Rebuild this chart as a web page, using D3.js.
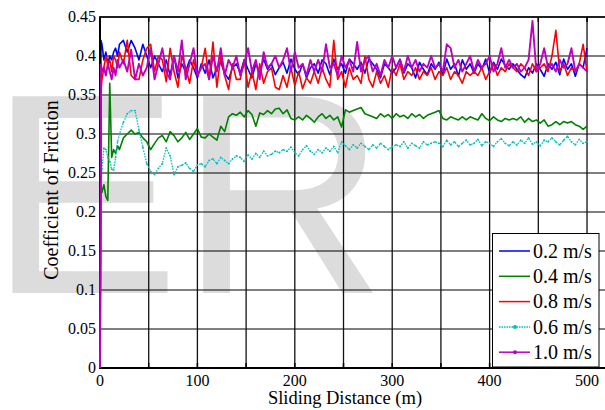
<!DOCTYPE html>
<html>
<head>
<meta charset="utf-8">
<script src="https://cdn.jsdelivr.net/npm/d3@7"></script>
<style>
    body { margin: 0; background: #fff; }
    svg text { font-family: "Liberation Serif", "Times New Roman", serif; fill: #000; }
</style>
</head>
<body>
<svg id="chart" width="605" height="410"></svg>
<script>

// sliding distance (m) where each reading was taken
const dist = [0, 1, 2, 4, 6, 8, 10, 12, 14, 16, 18, 20].concat(d3.range(24, 501, 4))

const speeds = ['0.2 m/s', '0.4 m/s', '0.8 m/s', '0.6 m/s', '1.0 m/s']

const cof02 = [0, 0.42, 0.415, 0.395, 0.405, 0.39, 0.40, 0.395, 0.405, 0.41, 0.40, 0.415,
    0.42, 0.405, 0.42, 0.41, 0.395, 0.415, 0.40, 0.385, 0.40, 0.39,
    0.38, 0.395, 0.375, 0.40, 0.372, 0.39, 0.38, 0.395, 0.385, 0.372,
    0.39, 0.378, 0.395, 0.372, 0.385, 0.392, 0.378, 0.37, 0.385, 0.39,
    0.378, 0.395, 0.383, 0.372, 0.39, 0.378, 0.396, 0.383, 0.39, 0.376,
    0.385, 0.392, 0.378, 0.396, 0.383, 0.376, 0.39, 0.372, 0.385, 0.39,
    0.378, 0.395, 0.39, 0.376, 0.396, 0.383, 0.39, 0.378, 0.396, 0.39,
    0.383, 0.392, 0.378, 0.396, 0.39, 0.383, 0.372, 0.39, 0.385, 0.378,
    0.385, 0.396, 0.378, 0.39, 0.385, 0.372, 0.392, 0.383, 0.376, 0.39,
    0.383, 0.392, 0.376, 0.396, 0.383, 0.39, 0.374, 0.395, 0.383, 0.39,
    0.378, 0.39, 0.383, 0.396, 0.378, 0.392, 0.383, 0.396, 0.388, 0.383,
    0.39, 0.383, 0.376, 0.372, 0.385, 0.378, 0.39, 0.383, 0.374, 0.39,
    0.383, 0.392, 0.376, 0.396, 0.383, 0.39, 0.374, 0.39, 0.385, 0.41]

const cof04 = [0, 0.235, 0.225, 0.235, 0.22, 0.215, 0.365, 0.27, 0.28, 0.275, 0.285, 0.28,
    0.295, 0.30, 0.305, 0.30, 0.302, 0.295, 0.29, 0.28, 0.288, 0.295,
    0.298, 0.29, 0.303, 0.298, 0.29, 0.295, 0.302, 0.293, 0.30, 0.307,
    0.296, 0.295, 0.30, 0.296, 0.292, 0.31, 0.303, 0.322, 0.326, 0.324,
    0.328, 0.322, 0.33, 0.325, 0.31, 0.327, 0.325, 0.33, 0.326, 0.332,
    0.333, 0.326, 0.331, 0.32, 0.318, 0.322, 0.318, 0.324, 0.32, 0.315,
    0.322, 0.326, 0.32, 0.324, 0.318, 0.322, 0.309, 0.331, 0.328, 0.33,
    0.332, 0.334, 0.326, 0.324, 0.322, 0.32, 0.326, 0.322, 0.325, 0.32,
    0.326, 0.322, 0.324, 0.32, 0.326, 0.322, 0.325, 0.32, 0.324, 0.326,
    0.328, 0.33, 0.32, 0.318, 0.322, 0.32, 0.318, 0.322, 0.318, 0.322,
    0.32, 0.318, 0.326, 0.32, 0.317, 0.322, 0.318, 0.316, 0.32, 0.318,
    0.32, 0.318, 0.322, 0.315, 0.32, 0.316, 0.318, 0.314, 0.318, 0.31,
    0.312, 0.316, 0.312, 0.316, 0.314, 0.316, 0.312, 0.31, 0.306, 0.31]

const cof08 = [0, 0.355, 0.37, 0.385, 0.40, 0.39, 0.395, 0.38, 0.40, 0.395, 0.385, 0.405,
    0.39, 0.42, 0.375, 0.37, 0.37, 0.395, 0.41, 0.415, 0.38, 0.40,
    0.395, 0.367, 0.41, 0.38, 0.36, 0.40, 0.385, 0.365, 0.395, 0.375,
    0.385, 0.41, 0.37, 0.418, 0.36, 0.40, 0.375, 0.357, 0.39, 0.37,
    0.37, 0.395, 0.36, 0.38, 0.357, 0.39, 0.365, 0.38, 0.385, 0.36,
    0.357, 0.375, 0.36, 0.385, 0.362, 0.38, 0.358, 0.372, 0.365, 0.38,
    0.365, 0.385, 0.37, 0.36, 0.42, 0.37, 0.38, 0.36, 0.385, 0.37,
    0.375, 0.365, 0.40, 0.37, 0.36, 0.38, 0.365, 0.375, 0.36, 0.385,
    0.375, 0.39, 0.37, 0.38, 0.375, 0.385, 0.37, 0.38, 0.375, 0.385,
    0.37, 0.38, 0.375, 0.385, 0.37, 0.38, 0.375, 0.365, 0.38, 0.375,
    0.38, 0.375, 0.385, 0.37, 0.38, 0.39, 0.375, 0.385, 0.38, 0.39,
    0.385, 0.38, 0.39, 0.385, 0.375, 0.39, 0.38, 0.385, 0.39, 0.38,
    0.40, 0.433, 0.38, 0.39, 0.375, 0.385, 0.38, 0.39, 0.415, 0.38]

const cof06 = [0, 0.23, 0.255, 0.282, 0.28, 0.27, 0.265, 0.255, 0.254, 0.27, 0.29, 0.30,
    0.315, 0.326, 0.33, 0.33, 0.305, 0.283, 0.262, 0.252, 0.248, 0.256,
    0.262, 0.282, 0.272, 0.248, 0.258, 0.26, 0.263, 0.256, 0.252, 0.26,
    0.262, 0.258, 0.266, 0.268, 0.262, 0.27, 0.266, 0.262, 0.268, 0.272,
    0.27, 0.265, 0.273, 0.268, 0.275, 0.27, 0.278, 0.272, 0.274, 0.278,
    0.276, 0.28, 0.278, 0.283, 0.276, 0.272, 0.28, 0.285, 0.278, 0.274,
    0.28, 0.276, 0.282, 0.278, 0.284, 0.276, 0.29, 0.285, 0.28, 0.286,
    0.282, 0.288, 0.284, 0.28, 0.286, 0.282, 0.288, 0.284, 0.28, 0.284,
    0.286, 0.284, 0.29, 0.282, 0.288, 0.285, 0.282, 0.29, 0.286, 0.288,
    0.29, 0.288, 0.284, 0.292, 0.286, 0.29, 0.284, 0.288, 0.292, 0.286,
    0.288, 0.293, 0.285, 0.29, 0.288, 0.284, 0.29, 0.294, 0.288, 0.285,
    0.29, 0.286, 0.292, 0.288, 0.295, 0.287, 0.29, 0.285, 0.292, 0.29,
    0.295, 0.29, 0.286, 0.292, 0.297, 0.29, 0.286, 0.293, 0.288, 0.29]

const cof10 = [0, 0.39, 0.38, 0.385, 0.375, 0.39, 0.38, 0.37, 0.385, 0.375, 0.395, 0.385,
    0.395, 0.38, 0.408, 0.37, 0.39, 0.375, 0.385, 0.41, 0.37, 0.39,
    0.41, 0.38, 0.37, 0.40, 0.38, 0.42, 0.37, 0.39, 0.41, 0.375,
    0.385, 0.39, 0.37, 0.40, 0.38, 0.41, 0.375, 0.395, 0.385, 0.40,
    0.375, 0.39, 0.41, 0.38, 0.395, 0.37, 0.405, 0.385, 0.39, 0.40,
    0.385, 0.395, 0.41, 0.38, 0.405, 0.385, 0.39, 0.375, 0.395, 0.38,
    0.395, 0.38, 0.415, 0.385, 0.39, 0.375, 0.40, 0.385, 0.395, 0.38,
    0.418, 0.38, 0.395, 0.40, 0.38, 0.39, 0.375, 0.395, 0.385, 0.40,
    0.385, 0.395, 0.38, 0.40, 0.385, 0.395, 0.38, 0.39, 0.385, 0.40,
    0.385, 0.39, 0.38, 0.415, 0.41, 0.385, 0.395, 0.38, 0.39, 0.40,
    0.38, 0.395, 0.385, 0.39, 0.40, 0.38, 0.39, 0.41, 0.385, 0.395,
    0.385, 0.39, 0.38, 0.385, 0.395, 0.445, 0.38, 0.39, 0.41, 0.385,
    0.39, 0.38, 0.395, 0.385, 0.39, 0.41, 0.38, 0.39, 0.385, 0.38]

const yTicks = [0, 0.05, 0.1, 0.15, 0.2, 0.25, 0.3, 0.35, 0.4, 0.45]
const xGrid = [0, 50, 100, 150, 200, 250, 300, 350, 400, 450, 500]
const xLabels = [0, 100, 200, 300, 400, 500]

const series = [
    { name: speeds[0], values: cof02, color: '#0000ff', width: 1.6 },
    { name: speeds[1], values: cof04, color: '#008000', width: 1.6 },
    { name: speeds[2], values: cof08, color: '#ff0000', width: 1.6 },
    { name: speeds[3], values: cof06, color: '#00bfbf', width: 1.3, dash: '1.6,1.2', marker: true },
    { name: speeds[4], values: cof10, color: '#bf00bf', width: 1.9, marker: true }
]

const svg = d3.select('#chart')

const x = d3.scaleLinear().domain([0, 520]).range([100, 606.5])
const y = d3.scaleLinear().domain([0, 0.45]).range([368, 17])

// watermark sits under the grid
svg.append('text')
    .attr('x', -11)
    .attr('y', 293)
    .style('font-family', '"Liberation Sans", Arial, sans-serif')
    .style('font-size', '286px')
    .style('fill', '#dcdcdc')
    .text('ER')

// grid
const grid = svg.append('g').attr('class', 'grid')
grid.selectAll('.hgrid').data(yTicks.slice(1)).join('line')
    .attr('x1', x(0)).attr('x2', 606)
    .attr('y1', d => y(d)).attr('y2', d => y(d))
    .attr('stroke', '#000').attr('stroke-width', 1.2)
grid.selectAll('.vgrid').data(xGrid.slice(1)).join('line')
    .attr('x1', d => x(d)).attr('x2', d => x(d))
    .attr('y1', y(0)).attr('y2', y(0.45))
    .attr('stroke', '#111').attr('stroke-width', 1.3)

// friction curves
const line = d3.line()
    .x((d, i) => x(dist[i]))
    .y(d => y(d))

series.forEach(s => {
    const g = svg.append('g')
    g.append('path')
        .attr('d', line(s.values))
        .attr('fill', 'none')
        .attr('stroke', s.color)
        .attr('stroke-width', s.width)
        .attr('stroke-linejoin', 'round')
        .attr('stroke-dasharray', s.dash || null)
    if (s.dash) {
        g.selectAll('circle').data(s.values).join('circle')
            .attr('cx', (d, i) => x(dist[i]))
            .attr('cy', d => y(d))
            .attr('r', 0.9)
            .attr('fill', s.color)
    }
})

// axes frame, ticks pointing inward
svg.append('line').attr('x1', 100).attr('x2', 606).attr('y1', y(0)).attr('y2', y(0))
    .attr('stroke', '#000').attr('stroke-width', 2)
svg.append('line').attr('x1', 100).attr('x2', 606).attr('y1', y(0.45)).attr('y2', y(0.45))
    .attr('stroke', '#000').attr('stroke-width', 1.5)
svg.append('line').attr('x1', 100).attr('x2', 100).attr('y1', y(0) + 1).attr('y2', y(0.45) - 0.7)
    .attr('stroke', '#000').attr('stroke-width', 2)

const ticks = svg.append('g')
xGrid.forEach(d => {
    ticks.append('line').attr('x1', x(d)).attr('x2', x(d))
        .attr('y1', y(0)).attr('y2', y(0) - 5).attr('stroke', '#000').attr('stroke-width', 1.5)
    ticks.append('line').attr('x1', x(d)).attr('x2', x(d))
        .attr('y1', y(0.45)).attr('y2', y(0.45) + 5).attr('stroke', '#000').attr('stroke-width', 1.5)
})

// the first point of every curve is 0 at the origin, so redraw the magenta rise over the axis
svg.append('path')
    .attr('d', line(cof10.slice(0, 2)))
    .attr('stroke', '#bf00bf').attr('stroke-width', 1.9).attr('fill', 'none')

// tick labels
svg.append('g').selectAll('text').data(yTicks).join('text')
    .attr('x', 96)
    .attr('y', d => y(d))
    .attr('dy', '0.34em')
    .attr('text-anchor', 'end')
    .style('font-size', '16px')
    .text(d => d3.format('~g')(d))

svg.append('g').selectAll('text').data(xLabels).join('text')
    .attr('x', d => x(d))
    .attr('y', 386)
    .attr('text-anchor', 'middle')
    .style('font-size', '16px')
    .text(d => d)

svg.append('text')
    .attr('x', 345)
    .attr('y', 404)
    .attr('text-anchor', 'middle')
    .style('font-size', '18.5px')
    .text('Sliding Distance (m)')

svg.append('text')
    .attr('transform', 'translate(58,190) rotate(-90)')
    .attr('text-anchor', 'middle')
    .style('font-size', '20px')
    .text('Coefficient of Friction')

// legend
const legend = svg.append('g').attr('class', 'legend')
legend.append('rect')
    .attr('x', 492.5).attr('y', 233.5)
    .attr('width', 106.5).attr('height', 133.5)
    .attr('fill', '#fff').attr('stroke', '#000').attr('stroke-width', 1)

const item = legend.selectAll('.item').data(series).join('g')
    .attr('transform', (d, i) => `translate(0,${251 + i * 25.3})`)

item.append('line')
    .attr('x1', 499).attr('x2', 530)
    .attr('stroke', d => d.color)
    .attr('stroke-width', 1.5)
    .attr('stroke-dasharray', d => d.dash ? '1.5,1' : null)

item.filter(d => d.marker).append('circle')
    .attr('cx', 515).attr('r', 2).attr('fill', d => d.color)

item.append('text')
    .attr('x', 533)
    .attr('dy', '0.33em')
    .style('font-size', '20px')
    .text(d => d.name)

</script>
</body>
</html>
